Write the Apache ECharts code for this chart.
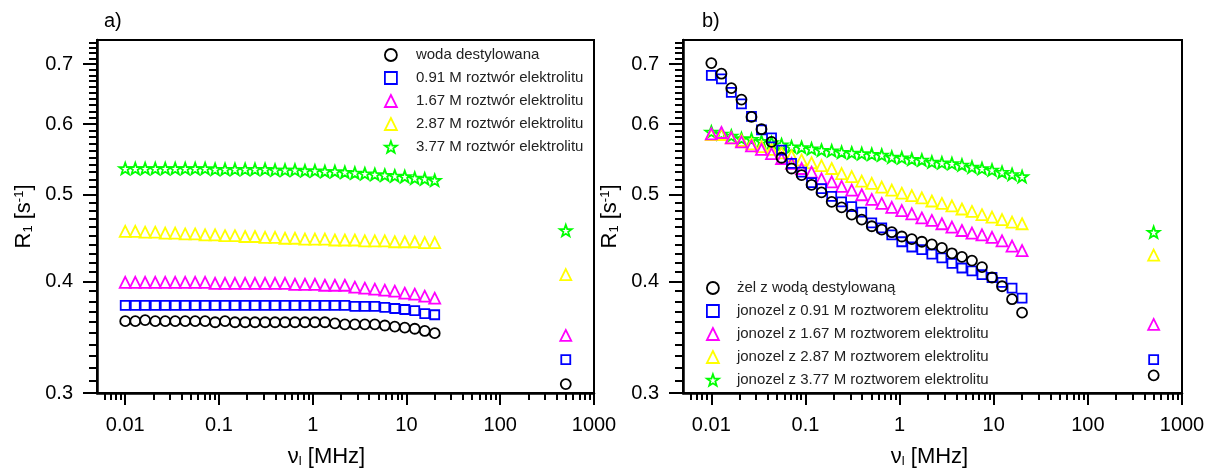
<!DOCTYPE html>
<html>
<head>
<meta charset="utf-8">
<script src="https://cdn.jsdelivr.net/npm/echarts@6/dist/echarts.min.js"></script>
<style>
html, body { margin: 0; padding: 0; background: #fff; }
#chart { width: 1209px; height: 473px; }
</style>
</head>
<body>
<div id="chart"></div>
<script>
// frequencies in MHz (last one is the high-field point)
var freq = [0.01, 0.0128, 0.0163, 0.0209, 0.0267, 0.0341, 0.0436, 0.0557, 0.0711, 0.0909,
	0.116, 0.148, 0.190, 0.242, 0.310, 0.396, 0.506, 0.646, 0.826, 1.055,
	1.348, 1.723, 2.201, 2.813, 3.595, 4.594, 5.870, 7.501, 9.585, 12.25,
	15.65, 20.0, 500];

// panel a) - solutions
var namesA = ['woda destylowana', '0.91 M roztwór elektrolitu', '1.67 M roztwór elektrolitu',
	'2.87 M roztwór elektrolitu', '3.77 M roztwór elektrolitu'];
var waterA = [0.361, 0.361, 0.362, 0.361, 0.361, 0.361, 0.361, 0.361, 0.361, 0.360,
	0.361, 0.360, 0.360, 0.360, 0.360, 0.360, 0.360, 0.360, 0.360, 0.360,
	0.360, 0.359, 0.358, 0.358, 0.358, 0.358, 0.357, 0.356, 0.355, 0.354,
	0.352, 0.350, 0.307];
var m091A = [0.376, 0.376, 0.376, 0.376, 0.376, 0.376, 0.376, 0.376, 0.376, 0.376,
	0.376, 0.376, 0.376, 0.376, 0.376, 0.376, 0.376, 0.376, 0.376, 0.376,
	0.376, 0.376, 0.376, 0.375, 0.375, 0.375, 0.374, 0.373, 0.372, 0.371,
	0.368, 0.367, 0.327];
var m167A = [0.399, 0.399, 0.399, 0.399, 0.399, 0.399, 0.399, 0.399, 0.399, 0.398,
	0.398, 0.398, 0.398, 0.398, 0.398, 0.398, 0.398, 0.397, 0.397, 0.397,
	0.396, 0.396, 0.396, 0.394, 0.393, 0.392, 0.391, 0.390, 0.388, 0.387,
	0.385, 0.383, 0.348];
var m287A = [0.455, 0.455, 0.454, 0.454, 0.453, 0.453, 0.452, 0.452, 0.451, 0.451,
	0.450, 0.450, 0.449, 0.449, 0.448, 0.448, 0.447, 0.447, 0.446, 0.446,
	0.446, 0.445, 0.445, 0.445, 0.444, 0.444, 0.444, 0.443, 0.443, 0.443,
	0.442, 0.442, 0.407];
var m377A = [0.535, 0.535, 0.535, 0.535, 0.535, 0.535, 0.535, 0.535, 0.535, 0.534,
	0.534, 0.534, 0.534, 0.534, 0.534, 0.533, 0.533, 0.533, 0.532, 0.532,
	0.531, 0.531, 0.530, 0.529, 0.528, 0.527, 0.526, 0.525, 0.524, 0.522,
	0.521, 0.519, 0.456];

// panel b) - gels
var namesB = ['żel z wodą destylowaną', 'jonozel z 0.91 M roztworem elektrolitu',
	'jonozel z 1.67 M roztworem elektrolitu', 'jonozel z 2.87 M roztworem elektrolitu',
	'jonozel z 3.77 M roztworem elektrolitu'];
var waterB = [0.702, 0.683, 0.658, 0.639, 0.611, 0.592, 0.573, 0.550, 0.535, 0.526,
	0.513, 0.503, 0.491, 0.484, 0.475, 0.469, 0.461, 0.457, 0.454, 0.449,
	0.446, 0.443, 0.440, 0.436, 0.430, 0.426, 0.422, 0.415, 0.404, 0.395,
	0.382, 0.369, 0.314];
var m091B = [0.680, 0.674, 0.651, 0.632, 0.612, 0.591, 0.579, 0.561, 0.542, 0.530,
	0.516, 0.508, 0.498, 0.491, 0.485, 0.478, 0.465, 0.459, 0.451, 0.443,
	0.437, 0.434, 0.429, 0.425, 0.419, 0.414, 0.411, 0.407, 0.404, 0.399,
	0.393, 0.383, 0.327];
var m167B = [0.585, 0.587, 0.579, 0.573, 0.567, 0.562, 0.556, 0.549, 0.542, 0.535,
	0.530, 0.521, 0.517, 0.511, 0.506, 0.500, 0.494, 0.489, 0.484, 0.480,
	0.476, 0.471, 0.468, 0.464, 0.460, 0.456, 0.453, 0.451, 0.448, 0.444,
	0.438, 0.433, 0.358];
var m287B = [0.584, 0.584, 0.579, 0.575, 0.570, 0.566, 0.562, 0.557, 0.553, 0.547,
	0.543, 0.539, 0.535, 0.528, 0.524, 0.518, 0.515, 0.510, 0.506, 0.502,
	0.499, 0.496, 0.492, 0.489, 0.486, 0.482, 0.479, 0.475, 0.472, 0.469,
	0.466, 0.464, 0.428];
var m377B = [0.588, 0.585, 0.582, 0.578, 0.577, 0.574, 0.572, 0.569, 0.566, 0.565,
	0.563, 0.561, 0.560, 0.558, 0.557, 0.556, 0.555, 0.554, 0.551, 0.550,
	0.548, 0.547, 0.544, 0.543, 0.542, 0.540, 0.537, 0.535, 0.533, 0.530,
	0.527, 0.524, 0.454];

var xTicks = [0.01, 0.1, 1, 10, 100, 1000];
var yTicks = [0.3, 0.4, 0.5, 0.6, 0.7];

var FONT = '"Liberation Sans", Arial, sans-serif';
var STAR = 'path://M0,-10L2.35,-3.24L9.51,-3.09L3.8,1.24L5.88,8.09L0,4.2L-5.88,8.09L-3.8,1.24L-9.51,-3.09L-2.35,-3.24Z';
var colors = ['#000000', '#0000ff', '#ff00ff', '#ffff00', '#00ff00'];
var symbols = ['circle', 'rect', 'triangle', 'triangle', STAR];
var sizes = [10, 9, 11, 11, 12];

// minor tick positions
var xMinor = [];
[0.001, 0.01, 0.1, 1, 10, 100].forEach(function (d) {
	for (var k = 2; k <= 9; k++) {
		var v = +(d * k).toPrecision(3);
		if (v > 0.005 && v < 1000) xMinor.push(v);
	}
});
var yMinor = [];
for (var i = 31; i <= 74; i++) {
	if (i % 10 !== 0) yMinor.push(i / 100);
}

function xAxes(gi) {
	return [{
		type: 'log', logBase: 10, gridIndex: gi, min: 0.005, max: 1000, position: 'bottom',
		axisLine: { show: true, onZero: false, lineStyle: { color: '#000', width: 2.5 } },
		axisTick: { show: true, inside: false, length: 12, customValues: xTicks,
			lineStyle: { color: '#000', width: 2 } },
		axisLabel: { customValues: xTicks, margin: 22, color: '#000', fontSize: 20, fontFamily: FONT,
			formatter: function (v) { return String(+(+v).toPrecision(3)); } },
		splitLine: { show: false },
		name: 'ν{sub|l} [MHz]', nameLocation: 'middle', nameGap: 52,
		nameTextStyle: { color: '#000', fontSize: 22, fontFamily: FONT,
			padding: gi === 0 ? [0, 38, 0, 0] : [0, 6, 0, 0],
			rich: { sub: { fontSize: 13, verticalAlign: 'bottom', fontFamily: FONT, color: '#000', padding: [10, 0, 0, 0] } } }
	}, {
		type: 'log', logBase: 10, gridIndex: gi, min: 0.005, max: 1000, position: 'bottom',
		axisLine: { show: false },
		axisTick: { show: true, inside: false, length: 7, customValues: xMinor,
			lineStyle: { color: '#000', width: 2 } },
		axisLabel: { show: false },
		splitLine: { show: false }
	}];
}

function yAxes(gi) {
	return [{
		type: 'log', logBase: 10, gridIndex: gi, min: 0.3, max: 0.745, position: 'left',
		axisLine: { show: true, onZero: false, lineStyle: { color: '#000', width: 2.5 } },
		axisTick: { show: true, inside: false, length: 14, customValues: yTicks,
			lineStyle: { color: '#000', width: 2 } },
		axisLabel: { customValues: yTicks, margin: 24, color: '#000', fontSize: 20, fontFamily: FONT,
			formatter: function (v) { return (+v).toFixed(1); } },
		splitLine: { show: false },
		name: 'R{sub|1} [s{sup|-1}]', nameLocation: 'middle', nameGap: 62, nameRotate: 90,
		nameTextStyle: { color: '#000', fontSize: 22, fontFamily: FONT, padding: [0, 0, 0, 0],
			rich: {
				sub: { fontSize: 13, verticalAlign: 'bottom', fontFamily: FONT, color: '#000' },
				sup: { fontSize: 13, verticalAlign: 'top', fontFamily: FONT, color: '#000' }
			} }
	}, {
		type: 'log', logBase: 10, gridIndex: gi, min: 0.3, max: 0.745, position: 'left',
		axisLine: { show: false },
		axisTick: { show: true, inside: false, length: 8, customValues: yMinor,
			lineStyle: { color: '#000', width: 2 } },
		axisLabel: { show: false },
		splitLine: { show: false }
	}];
}

function makeSeries(names, lists, gi) {
	var out = [];
	// drawn green first so black ends up on top
	for (var s = lists.length - 1; s >= 0; s--) {
		var pts = freq.map(function (f, j) { return [f, lists[s][j]]; });
		out.push({
			name: names[s], type: 'scatter', xAxisIndex: gi * 2, yAxisIndex: gi * 2,
			symbol: symbols[s], symbolSize: sizes[s], symbolKeepAspect: true,
			itemStyle: { color: 'rgba(0,0,0,0)', borderColor: colors[s], borderWidth: 1.8, opacity: 1 },
			emphasis: { disabled: true },
			data: pts
		});
	}
	return out;
}

function makeLegend(names, left, top, textPad) {
	return {
		data: names, orient: 'vertical', left: left, top: top, padding: 0,
		itemWidth: 12, itemHeight: 12, itemGap: 7, selectedMode: false, symbolKeepAspect: true,
		itemStyle: { borderWidth: 1.8 },
		textStyle: { color: '#222', fontSize: 15, fontFamily: FONT, lineHeight: 16, padding: [0, 0, 0, textPad] }
	};
}

var chart = echarts.init(document.getElementById('chart'));
var option = {
	backgroundColor: '#fff',
	animation: false,
	title: [
		{ text: 'a)', left: 99, top: 6, textStyle: { fontSize: 20, fontWeight: 'normal', color: '#000', fontFamily: FONT } },
		{ text: 'b)', left: 697, top: 6, textStyle: { fontSize: 20, fontWeight: 'normal', color: '#000', fontFamily: FONT } }
	],
	legend: [
		makeLegend(namesA, 384, 47, 14),
		makeLegend(namesB, 706, 280, 13)
	],
	grid: [
		{ left: 97, top: 40, width: 497, height: 356, show: true, borderColor: '#000', borderWidth: 2, containLabel: false },
		{ left: 683, top: 40, width: 499, height: 356, show: true, borderColor: '#000', borderWidth: 2, containLabel: false }
	],
	xAxis: xAxes(0).concat(xAxes(1)),
	yAxis: yAxes(0).concat(yAxes(1)),
	series: makeSeries(namesA, [waterA, m091A, m167A, m287A, m377A], 0)
		.concat(makeSeries(namesB, [waterB, m091B, m167B, m287B, m377B], 1))
};
chart.setOption(option);
</script>
</body>
</html>
